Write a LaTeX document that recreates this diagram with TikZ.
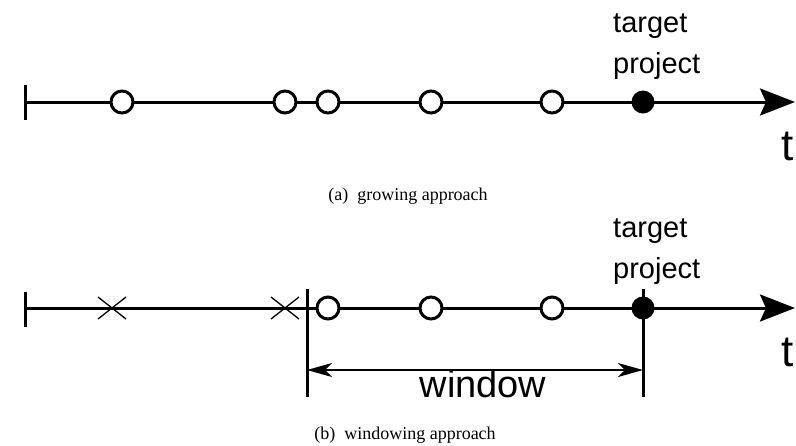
\documentclass[tikz,border=0pt]{standalone}
\usepackage{fontspec}
\setmainfont{Liberation Serif}
\newfontfamily\arialfont{Liberation Sans}
\usetikzlibrary{arrows.meta}
\tikzset{
  thick line/.style={line width=3pt},
  thin line/.style={line width=1.3pt},
  evt/.style={circle, draw, line width=3pt, fill=white, minimum size=22pt, inner sep=0pt},
  target/.style={circle, fill=black, minimum size=23pt, inner sep=0pt},
  lbl/.style={font=\arialfont\fontsize{29}{41}\selectfont, align=left, inner sep=0pt},
  tlbl/.style={font=\arialfont\fontsize{44}{44}\selectfont, inner sep=0pt},
  wlbl/.style={font=\arialfont\fontsize{38}{38}\selectfont, inner sep=0pt},
  captext/.style={font=\fontsize{18}{18}\selectfont, inner sep=0pt},
  bigtip/.style={-{Stealth[length=35pt, width=27pt, inset=6pt]}},
  xmark/.style={line width=1.3pt}
}
\begin{document}
\begin{tikzpicture}[x=1pt, y=-1pt]
\useasboundingbox (0,0) rectangle (796,445);
% ---------- (a) growing approach ----------
\coordinate (a0) at (25,102);
\coordinate (aend) at (795,102);
\coordinate (atop) at (25,85);
\coordinate (abot) at (25,120);
\draw[thick line] (atop) -- (abot);
\draw[thick line, bigtip] (a0) -- (aend);
\node[evt] (a1) at (122,102) {};
\node[evt] (a2) at (285,102) {};
\node[evt] (a3) at (328,102) {};
\node[evt] (a4) at (431,102) {};
\node[evt] (a5) at (552,102) {};
\node[target] (at) at (643,102) {};
\node[lbl, anchor=base west] (atxt) at (613,73) {target\\project};
\node[tlbl, anchor=base] (att) at (788,160) {t};
\node[captext, anchor=base] (acap) at (408,200) {(a)\ \ growing approach};
% ---------- (b) windowing approach ----------
\coordinate (b0) at (25,308);
\coordinate (bend) at (795,308);
\coordinate (btop) at (25,292);
\coordinate (bbot) at (25,327);
\draw[thick line] (btop) -- (bbot);
\draw[thick line, bigtip] (b0) -- (bend);
\foreach \n/\x in {bx1/112, bx2/285} {
  \coordinate (\n) at (\x,308);
  \draw[xmark] ([shift={(-14,-11)}]\n) -- ([shift={(14,11)}]\n);
  \draw[xmark] ([shift={(-14,11)}]\n) -- ([shift={(14,-11)}]\n);
}
\coordinate (wl1) at (307,289);
\coordinate (wl2) at (307,397);
\coordinate (wr1) at (643,289);
\coordinate (wr2) at (643,397);
\draw[thick line] (wl1) -- (wl2);
\draw[thick line] (wr1) -- (wr2);
\node[evt] (b1) at (328,308) {};
\node[evt] (b2) at (431,308) {};
\node[evt] (b3) at (552,308) {};
\node[target] (bt) at (643,308) {};
\coordinate (wa) at (307,370);
\coordinate (wb) at (643,370);
\draw[thin line, {Stealth[length=25pt, width=14pt, inset=7pt]}-{Stealth[length=25pt, width=14pt, inset=7pt]}] (wa) -- (wb);
\node[wlbl, anchor=base] (wtxt) at (483,397) {window};
\node[lbl, anchor=base west] (btxt) at (613,278) {target\\project};
\node[tlbl, anchor=base] (btt) at (788,366) {t};
\node[captext, anchor=base] (bcap) at (405,439) {(b)\ \ windowing approach};
\end{tikzpicture}
\end{document}
